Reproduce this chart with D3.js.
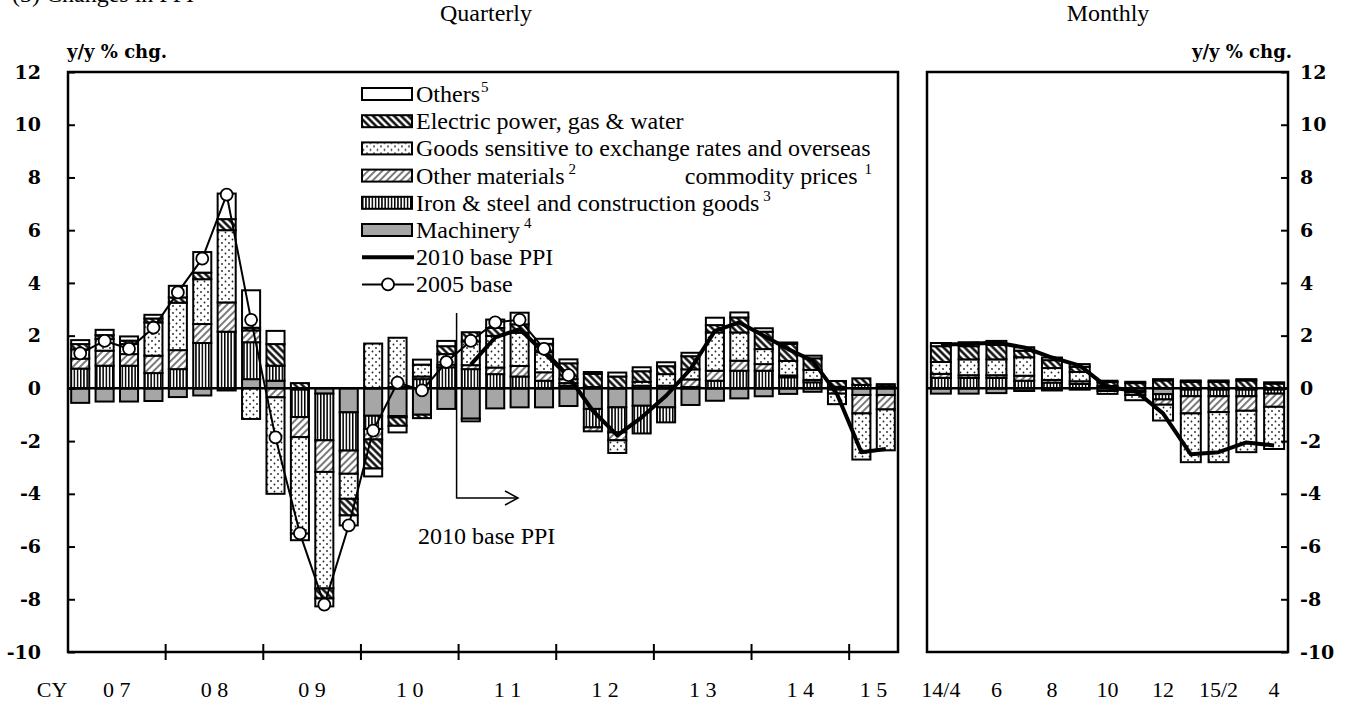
<!DOCTYPE html>
<html>
<head>
<meta charset="utf-8">
<script src="https://cdn.jsdelivr.net/npm/d3@7"></script>
<style>
  body { margin: 0; background: #fff; }
  svg text { font-family: "Liberation Serif", "Times New Roman", serif; fill: #000; }
  .tick-label { font-family: "DejaVu Serif", serif !important; font-weight: bold; font-size: 19px; }
</style>
</head>
<body>
<div id="chart"></div>
<script>
// ---- data (y/y % chg., contributions) ----
const categories = ["machinery", "iron", "otherMaterials", "goods", "electric", "others"];
const yearLabels = ["0 7", "0 8", "0 9", "1 0", "1 1", "1 2", "1 3", "1 4", "1 5"];
const monthLabels = ["14/4", "6", "8", "10", "12", "15/2", "4"];

// quarterly: 2007Q1 .. 2015Q2 (34 bars)
const machineryQ = [-0.55, -0.5, -0.5, -0.48, -0.33, -0.27, -0.08, 0.35, 0.29, -0.05, -0.2, -0.91, -1.04, -1.05, -1.0, -0.78, -1.15, -0.76, -0.72, -0.72, -0.67, -0.78, -0.72, -0.66, -0.72, -0.63, -0.47, -0.38, -0.3, -0.21, -0.13, -0.05, -0.25, -0.25];
const ironQ = [0.75, 0.86, 0.86, 0.58, 0.73, 1.72, 2.15, 1.4, 0.57, -1.04, -1.77, -1.45, -0.5, -0.05, 0.35, 0.8, 0.73, 0.54, 0.45, 0.29, 0.1, -0.7, -0.95, -1.05, -0.57, 0.05, 0.29, 0.67, 0.67, 0.42, 0.23, 0.06, 0.13, 0.08];
const otherMaterialsQ = [0.38, 0.57, 0.44, 0.66, 0.72, 0.72, 1.11, 0.45, -0.34, -0.76, -1.2, -0.88, -0.4, 0.05, 0.1, 0.1, 0.15, 0.25, 0.4, 0.32, 0.1, -0.15, -0.3, 0.1, 0.1, 0.29, 0.38, 0.38, 0.25, 0.07, 0.09, -0.15, -0.7, -0.55];
const goodsQ = [0.35, 0.44, 0.38, 1.26, 1.8, 1.7, 2.74, -1.16, -3.66, -3.66, -4.42, -0.95, 1.7, 1.87, 0.45, 0.4, 0.9, 1.2, 1.26, 0.76, 0.15, 0.05, -0.48, 0.15, 0.44, 0.38, 1.45, 1.07, 0.57, 0.55, 0.38, -0.4, -1.75, -1.55];
const electricQ = [0.2, 0.15, 0.13, 0.15, 0.2, 0.25, 0.42, 0.1, 0.82, 0.2, -0.38, -0.63, -1.1, -0.32, -0.13, 0.3, 0.35, 0.3, 0.32, 0.32, 0.6, 0.5, 0.45, 0.4, 0.3, 0.5, 0.28, 0.57, 0.66, 0.65, 0.44, 0.22, 0.25, 0.08];
const othersQ = [0.15, 0.2, 0.16, 0.14, 0.44, 0.78, 0.97, 1.42, 0.5, -0.25, -0.3, -0.38, -0.3, -0.25, 0.19, 0.2, -0.1, 0.32, 0.44, 0.19, 0.15, 0.07, 0.15, 0.15, 0.15, 0.13, 0.28, 0.19, 0.13, 0.05, 0.1, 0, 0, 0];
// 2005 base PPI, 2007Q1 .. 2012Q1
const base2005Q = [1.33, 1.8, 1.5, 2.3, 3.64, 4.92, 7.35, 2.6, -1.86, -5.5, -8.2, -5.2, -1.6, 0.22, -0.08, 1.0, 1.8, 2.5, 2.6, 1.5, 0.5];
// 2010 base PPI, 2011Q1 .. 2015Q2
const base2010Start = 16;
const base2010Q = [0.9, 1.93, 2.25, 1.36, 0.45, -0.85, -1.78, -1.1, -0.28, 0.73, 2.18, 2.5, 2.0, 1.49, 1.05, -0.21, -2.42, -2.3];

// monthly: 2014/4 .. 2015/4 (13 bars)
const machineryM = [-0.2, -0.2, -0.18, -0.1, -0.08, -0.05, -0.1, -0.1, -0.22, -0.05, -0.05, -0.05, -0.05];
const ironM = [0.4, 0.4, 0.4, 0.29, 0.22, 0.17, 0.09, -0.05, -0.2, -0.25, -0.25, -0.25, -0.15];
const otherMaterialsM = [0.15, 0.1, 0.1, 0.19, 0.1, 0.1, 0, -0.1, -0.2, -0.65, -0.6, -0.55, -0.5];
const goodsM = [0.45, 0.6, 0.6, 0.7, 0.45, 0.35, -0.11, -0.2, -0.6, -1.85, -1.9, -1.57, -1.6];
const electricM = [0.6, 0.5, 0.55, 0.25, 0.3, 0.2, 0.15, 0.2, 0.3, 0.25, 0.25, 0.3, 0.18];
const othersM = [0.12, 0.15, 0.15, 0.13, 0.1, 0.1, 0.05, 0.05, 0.05, 0.05, 0.05, 0.05, 0.05];
const base2010M = [1.66, 1.68, 1.74, 1.55, 1.17, 0.86, 0.04, -0.09, -0.95, -2.5, -2.42, -2.05, -2.17];

// ---- layout ----
const W = 1361, H = 702;
const plotTop = 72, plotBottom = 652;
const leftPanel = { x0: 68, x1: 898 };
const rightPanel = { x0: 927, x1: 1288 };

const svg = d3.select("#chart").append("svg").attr("width", W).attr("height", H);

// patterns
const defs = svg.append("defs");
function pattern(id, w, h, transform) {
  const p = defs.append("pattern").attr("id", id).attr("patternUnits", "userSpaceOnUse")
    .attr("width", w).attr("height", h);
  if (transform) p.attr("patternTransform", transform);
  p.append("rect").attr("width", w).attr("height", h).attr("fill", "#fff");
  return p;
}
pattern("pIron", 3.2, 10).append("rect").attr("width", 1.5).attr("height", 10).attr("fill", "#000");
pattern("pOther", 5, 5, "rotate(45)").append("line")
  .attr("x1", 1).attr("y1", 0).attr("x2", 1).attr("y2", 5).attr("stroke", "#333").attr("stroke-width", 1.3);
pattern("pElec", 5, 5, "rotate(-45)").append("line")
  .attr("x1", 1.5).attr("y1", 0).attr("x2", 1.5).attr("y2", 5).attr("stroke", "#000").attr("stroke-width", 2.4);
const pDot = pattern("pGoods", 7, 7);
pDot.append("circle").attr("cx", 1.5).attr("cy", 1.5).attr("r", 0.9).attr("fill", "#222");
pDot.append("circle").attr("cx", 5).attr("cy", 5).attr("r", 0.9).attr("fill", "#222");

const fills = {
  machinery: "#a6a6a6",
  iron: "url(#pIron)",
  otherMaterials: "url(#pOther)",
  goods: "url(#pGoods)",
  electric: "url(#pElec)",
  others: "#fff"
};

const y = d3.scaleLinear().domain([-10, 12]).range([plotBottom, plotTop]);

function buildRows(arrs) {
  return arrs[0].map((_, i) => {
    const row = { i };
    categories.forEach((c, k) => { row[c] = arrs[k][i]; });
    return row;
  });
}

const stack = d3.stack().keys(categories).offset(d3.stackOffsetDiverging);

function drawBars(g, rows, x) {
  const series = stack(rows);
  series.forEach(s => {
    g.append("g").selectAll("rect")
      .data(s.filter(d => Math.abs(d[1] - d[0]) > 1e-6))
      .join("rect")
      .attr("x", d => x(d.data.i))
      .attr("width", x.bandwidth())
      .attr("y", d => y(Math.max(d[0], d[1])))
      .attr("height", d => Math.abs(y(d[0]) - y(d[1])))
      .attr("fill", fills[s.key])
      .attr("stroke", "#000")
      .attr("stroke-width", 2);
  });
}

// ---- quarterly panel ----
const rowsQ = buildRows([machineryQ, ironQ, otherMaterialsQ, goodsQ, electricQ, othersQ]);
const xq = d3.scaleBand().domain(d3.range(rowsQ.length)).range([leftPanel.x0, leftPanel.x1])
  .paddingInner(0.26).paddingOuter(0.13);
const xqLin = d3.scaleLinear().domain([0, rowsQ.length]).range([leftPanel.x0, leftPanel.x1]);
const cq = i => xq(i) + xq.bandwidth() / 2;

const gq = svg.append("g");
drawBars(gq, rowsQ, xq);
gq.append("line").attr("x1", leftPanel.x0).attr("x2", leftPanel.x1)
  .attr("y1", y(0)).attr("y2", y(0)).attr("stroke", "#000").attr("stroke-width", 2.5);

// 2005 base line with markers
gq.append("path").datum(base2005Q)
  .attr("d", d3.line().x((d, i) => cq(i)).y(d => y(d)))
  .attr("fill", "none").attr("stroke", "#000").attr("stroke-width", 2);
// 2010 base line
gq.append("path").datum(base2010Q)
  .attr("d", d3.line().x((d, i) => cq(i + base2010Start)).y(d => y(d)))
  .attr("fill", "none").attr("stroke", "#000").attr("stroke-width", 4).attr("stroke-linejoin", "round");
gq.append("g").selectAll("circle").data(base2005Q).join("circle")
  .attr("cx", (d, i) => cq(i)).attr("cy", d => y(d)).attr("r", 6)
  .attr("fill", "#fff").attr("stroke", "#000").attr("stroke-width", 1.8);

// frame + axes
svg.append("rect").attr("x", leftPanel.x0).attr("y", plotTop)
  .attr("width", leftPanel.x1 - leftPanel.x0).attr("height", plotBottom - plotTop)
  .attr("fill", "none").attr("stroke", "#000").attr("stroke-width", 2.5);

const yTicks = d3.range(-10, 13, 2);
const yLeft = svg.append("g").attr("transform", `translate(${leftPanel.x0},0)`)
  .call(d3.axisLeft(y).tickValues(yTicks).tickFormat(d => String(d)).tickSize(-7).tickPadding(27));
yLeft.select(".domain").remove();
yLeft.selectAll("line").attr("stroke", "#000").attr("stroke-width", 2);
yLeft.selectAll("text").attr("class", "tick-label");

// year ticks crossing the bottom axis
svg.append("g").selectAll("line").data(d3.range(4, 33, 4)).join("line")
  .attr("x1", d => xqLin(d)).attr("x2", d => xqLin(d))
  .attr("y1", plotBottom - 8).attr("y2", plotBottom + 8)
  .attr("stroke", "#000").attr("stroke-width", 2);

svg.append("g").selectAll("text").data(yearLabels).join("text")
  .attr("x", (d, k) => k < 8 ? xqLin(k * 4 + 2) : xqLin(33))
  .attr("y", 697).attr("text-anchor", "middle").attr("font-size", 22)
  .text(d => d);
svg.append("text").attr("x", 52).attr("y", 697).attr("text-anchor", "middle")
  .attr("font-size", 22).text("CY");

// ---- monthly panel ----
const rowsM = buildRows([machineryM, ironM, otherMaterialsM, goodsM, electricM, othersM]);
const xm = d3.scaleBand().domain(d3.range(rowsM.length)).range([rightPanel.x0, rightPanel.x1])
  .paddingInner(0.28).paddingOuter(0.14);
const cm = i => xm(i) + xm.bandwidth() / 2;

const gm = svg.append("g");
drawBars(gm, rowsM, xm);
gm.append("line").attr("x1", rightPanel.x0).attr("x2", rightPanel.x1)
  .attr("y1", y(0)).attr("y2", y(0)).attr("stroke", "#000").attr("stroke-width", 2.5);
gm.append("path").datum(base2010M)
  .attr("d", d3.line().x((d, i) => cm(i)).y(d => y(d)))
  .attr("fill", "none").attr("stroke", "#000").attr("stroke-width", 4).attr("stroke-linejoin", "round");

svg.append("rect").attr("x", rightPanel.x0).attr("y", plotTop)
  .attr("width", rightPanel.x1 - rightPanel.x0).attr("height", plotBottom - plotTop)
  .attr("fill", "none").attr("stroke", "#000").attr("stroke-width", 2.5);

const yRight = svg.append("g").attr("transform", `translate(${rightPanel.x1},0)`)
  .call(d3.axisRight(y).tickValues(yTicks).tickFormat(d => String(d)).tickSize(-7).tickPadding(12));
yRight.select(".domain").remove();
yRight.selectAll("line").attr("stroke", "#000").attr("stroke-width", 2);
yRight.selectAll("text").attr("class", "tick-label");

svg.append("g").selectAll("text").data(monthLabels).join("text")
  .attr("x", (d, k) => cm(k * 2)).attr("y", 697).attr("text-anchor", "middle")
  .attr("font-size", 22).text(d => d);

// ---- titles ----
svg.append("text").attr("x", 12).attr("y", 2).attr("font-size", 24).text("(3) Changes in PPI");
svg.append("text").attr("x", 486).attr("y", 21).attr("text-anchor", "middle").attr("font-size", 24).text("Quarterly");
svg.append("text").attr("x", 1108).attr("y", 21).attr("text-anchor", "middle").attr("font-size", 24).text("Monthly");
svg.append("text").attr("class", "tick-label").attr("x", 67).attr("y", 58).style("font-size", "18px").text("y/y % chg.");
svg.append("text").attr("class", "tick-label").attr("x", 1292).attr("y", 58).style("font-size", "18px")
  .attr("text-anchor", "end").text("y/y % chg.");

// ---- legend ----
const legendItems = [
  { key: "others", label: "Others", sup: "5" },
  { key: "electric", label: "Electric power, gas & water" },
  { key: "goods", label: "Goods sensitive to exchange rates and overseas" },
  { key: "otherMaterials", label: "Other materials", sup: "2" },
  { key: "iron", label: "Iron & steel and construction goods", sup: "3" },
  { key: "machinery", label: "Machinery", sup: "4" },
  { key: "line2010", label: "2010 base PPI" },
  { key: "line2005", label: "2005 base" }
];
const lg = svg.append("g").attr("transform", "translate(362,94)");
const rowH = 27.2;
const li = lg.selectAll("g").data(legendItems).join("g")
  .attr("transform", (d, i) => `translate(0,${i * rowH})`);
li.filter(d => fills[d.key]).append("rect")
  .attr("x", 0).attr("y", -6).attr("width", 50).attr("height", 12)
  .attr("fill", d => fills[d.key]).attr("stroke", "#000").attr("stroke-width", 2);
li.filter(d => d.key === "line2010").append("line")
  .attr("x1", 0).attr("x2", 52).attr("stroke", "#000").attr("stroke-width", 4);
li.filter(d => d.key === "line2005").append("line")
  .attr("x1", 0).attr("x2", 52).attr("stroke", "#000").attr("stroke-width", 2);
li.filter(d => d.key === "line2005").append("circle")
  .attr("cx", 26).attr("r", 6).attr("fill", "#fff").attr("stroke", "#000").attr("stroke-width", 1.8);
const lt = li.append("text").attr("x", 54).attr("y", 8).attr("font-size", 24);
lt.append("tspan").text(d => d.label);
lt.filter(d => d.sup).append("tspan").attr("dx", d => d.key === "others" ? 1 : 4).attr("dy", -10)
  .attr("font-size", 15).text(d => d.sup);
// second line of the "goods" label, right-aligned on the "Other materials" row
const gl = lg.append("text").attr("y", 3 * rowH + 8).attr("x", 510).attr("text-anchor", "end").attr("font-size", 24);
gl.append("tspan").text("commodity prices");
gl.append("tspan").attr("dx", 7).attr("dy", -10).attr("font-size", 15).text("1");

// ---- 2010 base annotation ----
const ann = svg.append("g").attr("stroke", "#000").attr("stroke-width", 1.5).attr("fill", "none");
const annX = xqLin(base2010Start) - 2;
ann.append("path").attr("d", `M${annX},313 V498 H518`);
ann.append("path").attr("d", "M505,491 L518,498 L505,505");
svg.append("text").attr("x", 418).attr("y", 544).attr("font-size", 24).text("2010 base PPI");
</script>
</body>
</html>
